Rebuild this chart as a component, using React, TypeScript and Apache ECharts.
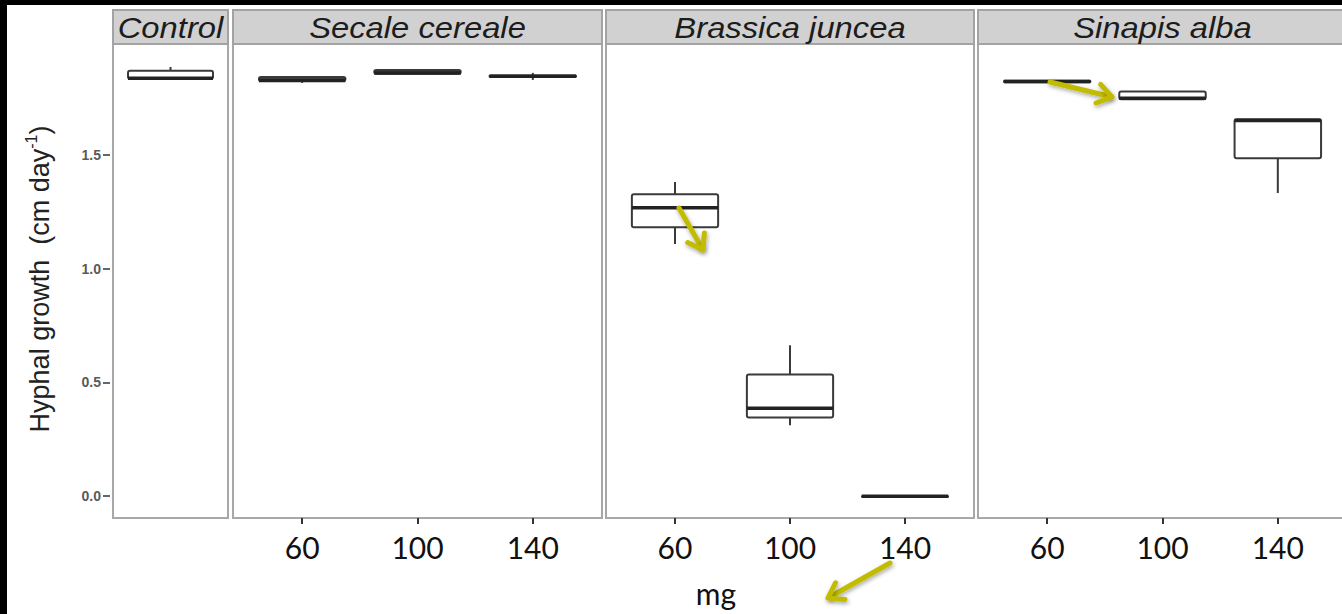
import React, { useEffect, useRef } from "react";
import * as echarts from "echarts";

const W = 1342;
const H = 614;

// ---- data ----
const panelNames = ["Control", "Secale cereale", "Brassica juncea", "Sinapis alba"];
const doses = [60, 100, 140];
const controlX = [0];
const yTicks = [0, 0.5, 1.0, 1.5];
// [min, q1, median, q3, max]
const controlStats = [[1.835, 1.835, 1.837, 1.87, 1.887]];
const secaleStats = [
  [1.817, 1.826, 1.828, 1.843, 1.843],
  [1.857, 1.857, 1.86, 1.874, 1.874],
  [1.83, 1.843, 1.846, 1.849, 1.861],
];
const brassicaStats = [
  [1.109, 1.182, 1.268, 1.327, 1.381],
  [0.312, 0.346, 0.386, 0.535, 0.664],
  [0, 0, 0, 0, 0],
];
const sinapisStats = [
  [1.82, 1.82, 1.823, 1.826, 1.826],
  [1.745, 1.745, 1.75, 1.779, 1.779],
  [1.333, 1.486, 1.652, 1.657, 1.657],
];
const yTitleMain = "Hyphal growth  (cm day";
const yTitleSup = "-1";
const xTitle = "mg";

// ---- layout ----
const panelLeft = [113, 233, 606, 978];
const panelRight = [228, 602, 974, 1347];
const PANEL_TOP = 44;
const PANEL_BOTTOM = 518;
const STRIP_TOP = 10;
const Y_MIN = -0.096;
const Y_MAX = 1.988;
const BOX_HALF = 15;
const STROKE = "#3a3a3a";

function renderBox(params: any, api: any) {
  const x = api.value(0);
  const mn = api.value(1);
  const q1 = api.value(2);
  const md = api.value(3);
  const q3 = api.value(4);
  const mx = api.value(5);
  const tl = api.coord([x - BOX_HALF, q3]);
  const br = api.coord([x + BOX_HALF, q1]);
  const top = api.coord([x, mx]);
  const bot = api.coord([x, mn]);
  const ml = api.coord([x - BOX_HALF, md]);
  const mr = api.coord([x + BOX_HALF, md]);
  const h = br[1] - tl[1];
  return {
    type: "group",
    children: [
      { type: "line", shape: { x1: top[0], y1: top[1], x2: top[0], y2: tl[1] }, style: { stroke: STROKE, lineWidth: 2 } },
      { type: "line", shape: { x1: bot[0], y1: br[1], x2: bot[0], y2: bot[1] }, style: { stroke: STROKE, lineWidth: 2 } },
      {
        type: "rect",
        shape: { x: tl[0], y: tl[1], width: br[0] - tl[0], height: Math.max(h, 0.5), r: 2 },
        style: { fill: h < 5 ? "#444" : "#fff", stroke: STROKE, lineWidth: 2 },
      },
      { type: "line", shape: { x1: ml[0], y1: ml[1], x2: mr[0], y2: mr[1] }, style: { stroke: "#222", lineWidth: 3.5 } },
    ],
  };
}

function arrow(x1: number, y1: number, x2: number, y2: number) {
  const ang = Math.atan2(y2 - y1, x2 - x1);
  const L = 17;
  const spread = 0.6;
  const p1 = [x2 - L * Math.cos(ang - spread), y2 - L * Math.sin(ang - spread)];
  const p2 = [x2 - L * Math.cos(ang + spread), y2 - L * Math.sin(ang + spread)];
  const style = {
    stroke: "#c2bc00",
    lineWidth: 5,
    lineCap: "round",
    lineJoin: "round",
    fill: null,
    shadowBlur: 4,
    shadowColor: "rgba(0,0,0,0.35)",
    shadowOffsetX: 1,
    shadowOffsetY: 2,
  };
  return [
    { type: "line", shape: { x1, y1, x2: x2 - 2 * Math.cos(ang), y2: y2 - 2 * Math.sin(ang) }, style, z: 100 },
    { type: "polyline", shape: { points: [p1, [x2, y2], p2] }, style, z: 100 },
  ];
}

export default function App() {
  const ref = useRef<HTMLDivElement>(null);
  useEffect(() => {
    if (!ref.current) return;
    const chart = echarts.init(ref.current, null, { renderer: "svg" });

    const statsList = [controlStats, secaleStats, brassicaStats, sinapisStats];
    const xsList = [controlX, doses, doses, doses];

    const grids = panelLeft.map((l, i) => ({
      left: l,
      top: PANEL_TOP,
      width: panelRight[i] - l,
      height: PANEL_BOTTOM - PANEL_TOP,
      show: true,
      backgroundColor: "#fff",
      borderColor: "#a8a8a8",
      borderWidth: 2,
      containLabel: false,
      outerBoundsMode: "none",
    }));

    const xAxes = panelLeft.map((_, i) =>
      i === 0
        ? {
            type: "value",
            gridIndex: 0,
            position: "bottom",
            min: -20.3,
            max: 20.3,
            axisLine: { show: false, onZero: false },
            axisTick: { show: false },
            axisLabel: { show: false },
            splitLine: { show: false },
          }
        : {
            type: "value",
            gridIndex: i,
            position: "bottom",
            min: 36,
            max: 164,
            axisLine: { show: false, onZero: false },
            splitLine: { show: false },
            axisTick: { show: true, customValues: doses, length: 6, lineStyle: { color: "#333", width: 2 } },
            axisLabel: {
              customValues: doses,
              fontFamily: "Lato",
              fontSize: 30,
              lineHeight: 30,
              color: "#111",
              margin: 14,
              formatter: (v: number) => String(v),
            },
          }
    );

    const yAxes = panelLeft.map((_, i) => ({
      type: "value",
      gridIndex: i,
      position: "left",
      min: Y_MIN,
      max: Y_MAX,
      show: i === 0,
      offset: 3,
      axisLine: { show: false, onZero: false },
      splitLine: { show: false },
      axisTick: { show: true, customValues: yTicks, length: 7, lineStyle: { color: "#333", width: 1.5 } },
      axisLabel: {
        customValues: yTicks,
        fontFamily: "Liberation Sans",
        fontSize: 14,
        fontWeight: "bold",
        color: "#5a5a5a",
        margin: 9,
        formatter: (v: number) => v.toFixed(1),
      },
    }));

    const series = statsList.map((stats, i) => ({
      type: "custom",
      xAxisIndex: i,
      yAxisIndex: i,
      renderItem: renderBox,
      encode: { x: 0, y: [1, 2, 3, 4, 5] },
      data: stats.map((s, j) => [xsList[i][j], ...s]),
      z: 5,
    }));

    const strips: any[] = [];
    panelLeft.forEach((l, i) => {
      const w = panelRight[i] - l;
      strips.push({
        type: "rect",
        shape: { x: l, y: STRIP_TOP, width: w, height: PANEL_TOP - STRIP_TOP },
        style: { fill: "#d1d1d1", stroke: "#a3a3a3", lineWidth: 2 },
        z: 10,
      });
      strips.push({
        type: "text",
        x: l + w / 2,
        y: (STRIP_TOP + PANEL_TOP) / 2 + 1,
        scaleX: 1.13,
        style: {
          text: panelNames[i],
          fontFamily: "Liberation Sans",
          fontStyle: "italic",
          fontSize: 29,
          fill: "#1c1c1c",
          align: "center",
          verticalAlign: "middle",
        },
        z: 11,
      });
    });

    const option: any = {
      animation: false,
      backgroundColor: "#fff",
      grid: grids,
      xAxis: xAxes,
      yAxis: yAxes,
      series,
      graphic: [
        ...strips,
        {
          type: "text",
          x: 40,
          y: 279,
          rotation: Math.PI / 2,
          style: {
            text: yTitleMain + "{sup|" + yTitleSup + "})",
            fontFamily: "Liberation Sans",
            fontSize: 27,
            lineHeight: 34,
            fill: "#222",
            align: "center",
            verticalAlign: "middle",
            rich: {
              sup: { fontFamily: "Liberation Sans", fontSize: 16, verticalAlign: "top", lineHeight: 20, fill: "#222" },
            },
          },
          z: 10,
        },
        {
          type: "text",
          x: 716,
          y: 593,
          style: {
            text: xTitle,
            fontFamily: "Lato",
            fontSize: 30,
            fill: "#111",
            align: "center",
            verticalAlign: "middle",
          },
          z: 10,
        },
        ...arrow(679, 208, 703, 250),
        ...arrow(1050, 82, 1112, 97),
        ...arrow(890, 563, 828, 598),
        { type: "rect", shape: { x: 0, y: 0, width: 7, height: H }, style: { fill: "#000" }, z: 200 },
        { type: "rect", shape: { x: 0, y: 0, width: W, height: 5 }, style: { fill: "#000" }, z: 200 },
      ],
    };
    chart.setOption(option);
    return () => chart.dispose();
  }, []);
  return (
    <div
      ref={ref}
      style={{ position: "absolute", left: 0, top: 0, width: W, height: H }}
    />
  );
}
